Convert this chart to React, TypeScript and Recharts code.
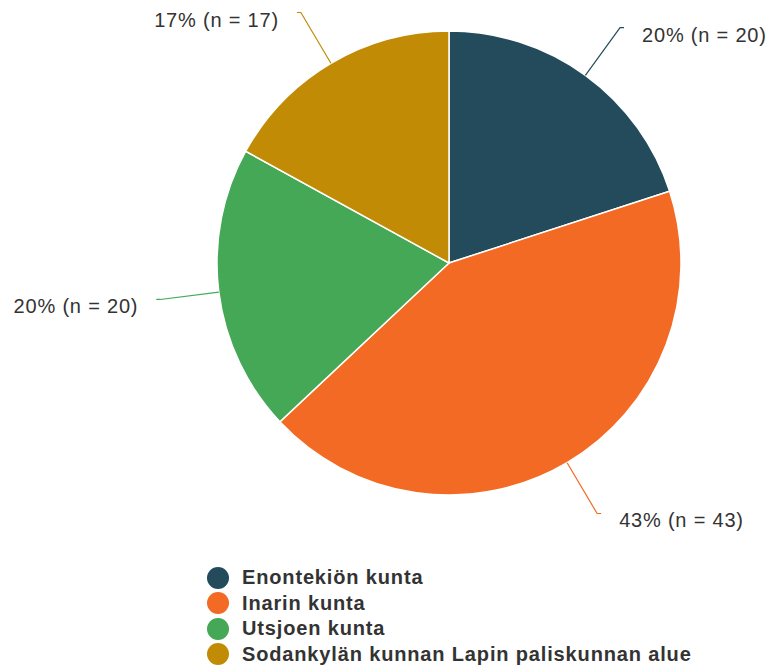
import React from "react"
import { PieChart, Pie, Cell } from "recharts"

const areas = [
  "Enontekiön kunta",
  "Inarin kunta",
  "Utsjoen kunta",
  "Sodankylän kunnan Lapin paliskunnan alue",
]
const counts = [20, 43, 20, 17]
const percents = [20, 43, 20, 17]
const colors = ["#234B5B", "#F26A24", "#44A856", "#C18B05"]

const data = areas.map((name, i) => ({ name, value: counts[i], pct: percents[i] }))

const RADIAN = Math.PI / 180
const FONT = "'Liberation Sans', Arial, sans-serif"

function renderLabel(props: any) {
  const { cx, cy, midAngle, outerRadius, index } = props
  const cos = Math.cos(-midAngle * RADIAN)
  const sin = Math.sin(-midAngle * RADIAN)
  const sx = cx + outerRadius * cos
  const sy = cy + outerRadius * sin
  const ex = cx + (outerRadius + 59) * cos
  const ey = cy + (outerRadius + 59) * sin
  const right = cos >= 0
  const tx = ex + (right ? 4 : -4)
  const d = data[index]
  return (
    <g>
      <path
        d={`M${sx},${sy}L${ex},${ey}L${tx},${ey}`}
        stroke={colors[index]}
        strokeWidth={1.2}
        fill="none"
      />
      <text
        x={ex + (right ? 22 : -22)}
        y={ey + 7}
        textAnchor={right ? "start" : "end"}
        dominantBaseline="central"
        fill="#333"
        fontSize={20}
        letterSpacing={0.8}
        fontFamily={FONT}
      >
        {`${d.pct}% (n = ${d.value})`}
      </text>
    </g>
  )
}

export default function App() {
  return (
    <div style={{ position: "absolute", left: 0, top: 0, width: 770, height: 669, background: "#fff" }}>
      <PieChart width={770} height={669} margin={{ top: 0, right: 0, bottom: 0, left: 0 }}>
        <Pie
          data={data}
          dataKey="value"
          nameKey="name"
          cx={449}
          cy={263}
          outerRadius={232}
          startAngle={90}
          endAngle={-270}
          stroke="#fff"
          strokeWidth={1.5}
          label={renderLabel}
          labelLine={false}
          isAnimationActive={false}
        >
          {data.map((d, i) => (
            <Cell key={d.name} fill={colors[i]} />
          ))}
        </Pie>
      </PieChart>

      {/* Legend */}
      <div style={{ position: "absolute", left: 207, top: 565, fontFamily: FONT }}>
        {areas.map((name, i) => (
          <div key={name} style={{ display: "flex", alignItems: "center", height: 25.5 }}>
            <div
              style={{
                width: 22,
                height: 22,
                borderRadius: "50%",
                backgroundColor: colors[i],
                marginRight: 13,
              }}
            />
            <span style={{ fontSize: 20, fontWeight: "bold", color: "#333", letterSpacing: 0.85 }}>
              {name}
            </span>
          </div>
        ))}
      </div>
    </div>
  )
}
